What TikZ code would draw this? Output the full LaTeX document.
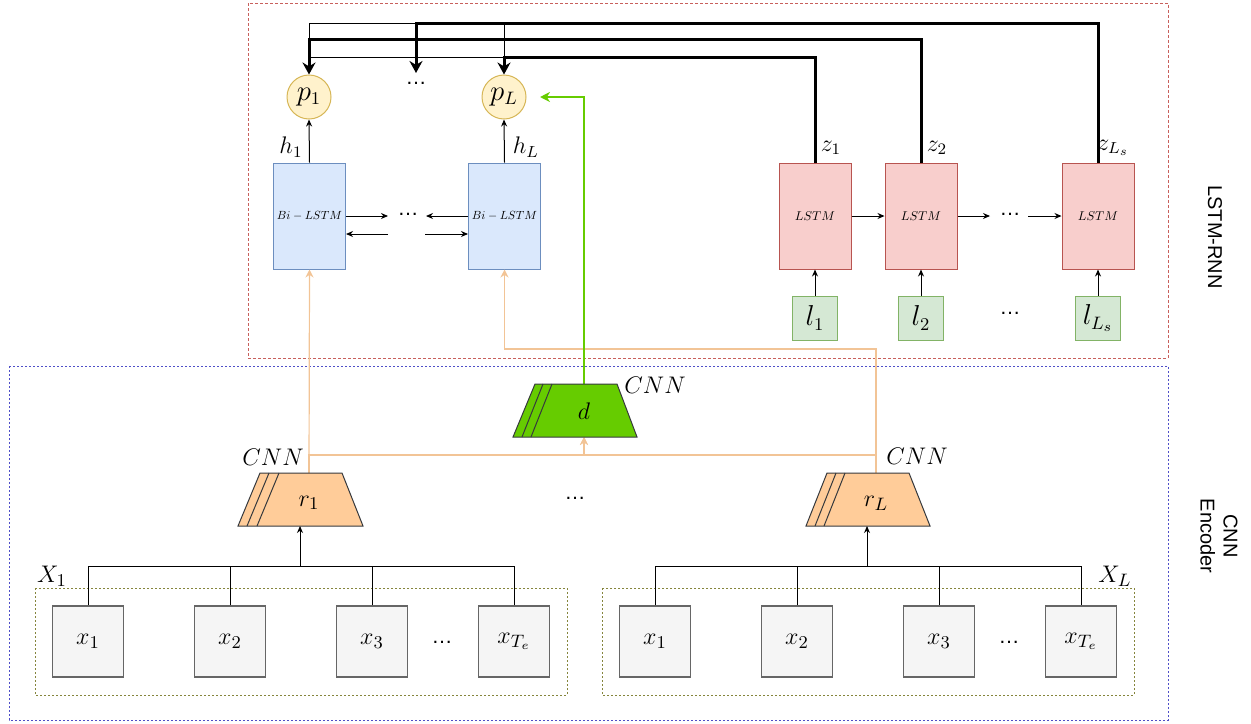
\documentclass[tikz,border=0pt]{standalone}
\usepackage{fontspec}
\newfontfamily\labelsans{Liberation Sans}
\usetikzlibrary{arrows.meta,calc}

\definecolor{blueF}{HTML}{DAE8FC}
\definecolor{blueD}{HTML}{6C8EBF}
\definecolor{redF}{HTML}{F8CECC}
\definecolor{redD}{HTML}{B85450}
\definecolor{greenF}{HTML}{D5E8D4}
\definecolor{greenD}{HTML}{82B366}
\definecolor{yellowF}{HTML}{FFF2CC}
\definecolor{yellowD}{HTML}{D6B656}
\definecolor{grayF}{HTML}{F5F5F5}
\definecolor{grayD}{HTML}{666666}
\definecolor{orangeF}{HTML}{FFCC99}
\definecolor{orangeL}{HTML}{F2C496}
\definecolor{cnnD}{HTML}{36393D}
\definecolor{greenL}{HTML}{66CC00}
\definecolor{rnnBorder}{HTML}{C8605C}
\definecolor{encBorder}{HTML}{4F4FC8}
\definecolor{groupBorder}{HTML}{85853C}

% small italic cell captions, set large and shrunk to keep the regular design size
\newcommand{\cellcap}[2]{\scalebox{#1}{\fontsize{11}{13}\selectfont$#2$}}

\begin{document}
\begin{tikzpicture}[x=0.5pt,y=-0.5pt,
  blk/.style={draw, line width=0.5pt, inner sep=0pt, minimum width=36pt, minimum height=53pt},
  bilstm/.style={blk, fill=blueF, draw=blueD},
  lstmbox/.style={blk, fill=redF, draw=redD},
  inbox/.style={draw=greenD, fill=greenF, line width=0.5pt, minimum width=22.5pt, minimum height=22pt, inner sep=0pt, font=\fontsize{13.5}{15}\selectfont},
  pnode/.style={circle, draw=yellowD, fill=yellowF, line width=0.5pt, minimum size=22pt, inner sep=0pt, font=\fontsize{13.5}{15}\selectfont},
  xbox/.style={draw=grayD, fill=grayF, minimum size=35.5pt, inner sep=0pt, line width=0.6pt, font=\fontsize{13}{15}\selectfont},
  lbl/.style={inner sep=0pt, font=\fontsize{11.5}{13}\selectfont},
  biglbl/.style={inner sep=0pt, font=\fontsize{12.5}{14}\selectfont},
  dotsn/.style={inner sep=0pt, font=\labelsans\fontsize{10.5}{11}\selectfont},
  cnnshape/.style={draw=cnnD, line width=0.5pt, line join=miter},
  ln/.style={line width=0.5pt},
  arr/.style={ln, -{Stealth[length=3.5pt,width=3pt]}},
  heavy/.style={line width=1.5pt, -{Stealth[length=6pt,width=6.5pt]}},
  orline/.style={draw=orangeL, line width=0.6pt},
  orarr/.style={orline, -{Stealth[length=4pt,width=4pt]}},
  grarr/.style={draw=greenL, line width=0.9pt, -{Stealth[length=5pt,width=5pt]}},
  region/.style={line width=0.5pt, dash pattern=on 1.5pt off 1pt},
  sidelbl/.style={inner sep=0pt, font=\labelsans\fontsize{10}{11.5}\selectfont, rotate=-90, align=center},
]
\useasboundingbox (0,0) rectangle (1251,723);

% ---------- region frames ----------
\draw[region, draw=rnnBorder] (248,3) rectangle (1168,358);
\draw[region, draw=encBorder, dash pattern=on 1pt off 1pt] (9,366) rectangle (1168,720);
\draw[region, draw=groupBorder, dash pattern=on 1pt off 1pt] (35,588) rectangle (567,695);
\draw[region, draw=groupBorder, dash pattern=on 1pt off 1pt] (602,588) rectangle (1134,695);

\node[sidelbl] (rnnlbl) at (1215,237) {LSTM-RNN};
\node[sidelbl] (enclbl) at (1219,536) {CNN\\Encoder};

% ---------- helper coordinates ----------
\coordinate (y23) at (0,23);
\coordinate (y39) at (0,39);
\coordinate (y57) at (0,57);
\coordinate (o349) at (0,349);
\coordinate (o455) at (0,455);
\coordinate (bus) at (0,566);
\coordinate (r1top) at (309,473);
\coordinate (r1bot) at (300,526);
\coordinate (rLtop) at (876,473);
\coordinate (rLbot) at (867,526);
\coordinate (dtop) at (584,384);
\coordinate (dbot) at (584,437);

% ---------- output nodes ----------
\node[pnode] (p1) at (309,97) {$p_1$};
\node[pnode] (pL) at (504,97) {$p_L$};
\node[dotsn] (pdots) at (416,83) {…};
\coordinate (pdotsIn) at (416,73);

% ---------- Bi-LSTM ----------
\node[bilstm] (bl1) at (309.5,216) {\cellcap{0.54}{Bi-LSTM}};
\node[bilstm] (bl2) at (504.5,216) {\cellcap{0.54}{Bi-LSTM}};
\node[dotsn] (bdots) at (408,214) {…};
\node[lbl] (h1) at (291,147) {$h_1$};
\node[lbl] (hL) at (526,147) {$h_L$};

% ---------- LSTM decoder ----------
\node[lstmbox] (ls1) at (815,216) {\cellcap{0.58}{LSTM}};
\node[lstmbox] (ls2) at (921,216) {\cellcap{0.58}{LSTM}};
\node[lstmbox] (ls3) at (1098,216) {\cellcap{0.58}{LSTM}};
\node[dotsn] (ldots) at (1010,214) {…};
\node[inbox] (l1) at (815,318) {$l_1$};
\node[inbox] (l2) at (921,318) {$l_2$};
\node[inbox] (l3) at (1098,318) {$l_{L_s}$};
\node[dotsn] (idots) at (1010,313) {…};
\node[lbl] (z1) at (831,148) {$z_1$};
\node[lbl] (z2) at (937,148) {$z_2$};
\node[lbl] (z3) at (1113,148) {$z_{L_s}$};

% ---------- connections from the decoder to the outputs ----------
\draw[ln] (p1.north |- y23) rectangle (pL.north |- y57);
\draw[heavy] (ls3.north) |- (pdotsIn |- y23) -- (pdotsIn);
\draw[heavy] (ls2.north) |- (p1.north |- y39) -- (p1.north);
\draw[heavy] (ls1.north) |- (pL.north |- y57) -- (pL.north);

\draw[arr] (bl1.north) -- (p1.south);
\draw[arr] (bl2.north) -- (pL.south);

% Bi-LSTM recurrences
\coordinate (bfa) at (388,216);
\coordinate (bfb) at (426,216);
\coordinate (bba) at (388,234);
\coordinate (bbb) at (425,234);
\draw[arr] (bl1.east) -- (bfa);
\draw[arr] (bl2.west) -- (bfb);
\draw[arr] (bba) -- (bl1.east |- bba);
\draw[arr] (bbb) -- (bl2.west |- bbb);

% LSTM chain
\coordinate (lc1) at (990,216);
\coordinate (lc2) at (1028,216);
\draw[arr] (ls1.east) -- (ls2.west);
\draw[arr] (ls2.east) -- (lc1);
\draw[arr] (lc2) -- (ls3.west);
\draw[arr] (l1.north) -- (ls1.south);
\draw[arr] (l2.north) -- (ls2.south);
\draw[arr] (l3.north) -- (ls3.south);

% ---------- CNN feature paths ----------
\draw[orarr] (r1top) -- (bl1.south);
\draw[orarr] (rLtop) |- (bl2.south |- o349) -- (bl2.south);
\draw[orarr] (r1top) |- (dbot |- o455) -- (dbot);
\draw[orarr] (rLtop) |- (dbot |- o455) -- (dbot);

\coordinate (gEnd) at (540,97);
\draw[grarr] (dtop) |- (gEnd);

% ---------- CNN blocks ----------
\draw[cnnshape, fill=orangeF] (238,526) -- (260,473) -- (342,473) -- (363,526) -- cycle;
\draw[cnnshape] (247,526) -- (269,473) (257,526) -- (279,473);
\node[biglbl] (r1) at (309,503) {$r_1$};
\node[biglbl] (cnn1) at (273,457) {$CNN$};

\draw[cnnshape, fill=orangeF] (806,526) -- (827,473) -- (909,473) -- (930,526) -- cycle;
\draw[cnnshape] (815,526) -- (836,473) (824,526) -- (845,473);
\node[biglbl] (rL) at (876,503) {$r_L$};
\node[biglbl] (cnnL) at (917,456) {$CNN$};

\draw[cnnshape, fill=greenL] (513,437) -- (535,384) -- (617,384) -- (637,437) -- cycle;
\draw[cnnshape] (522,437) -- (543,384) (531,437) -- (552,384);
\node[biglbl] (d) at (584,411) {$d$};
\node[biglbl] (cnnd) at (655,385) {$CNN$};

\node[dotsn] (rdots) at (575,498) {…};

% ---------- input sequences ----------
\node[xbox] (a1) at (88,641.5) {$x_1$};
\node[xbox] (a2) at (230,641.5) {$x_2$};
\node[xbox] (a3) at (372,641.5) {$x_3$};
\node[xbox] (a4) at (514,641.5) {$x_{T_e}$};
\node[dotsn] (adots) at (442,642) {…};
\node[biglbl, font=\fontsize{13}{15}\selectfont] (X1) at (52,576) {$X_1$};

\node[xbox] (b1) at (655,641.5) {$x_1$};
\node[xbox] (b2) at (797,641.5) {$x_2$};
\node[xbox] (b3) at (939,641.5) {$x_3$};
\node[xbox] (b4) at (1081,641.5) {$x_{T_e}$};
\node[dotsn] (bdots2) at (1009,642) {…};
\node[biglbl, font=\fontsize{13}{15}\selectfont] (XL) at (1115,576) {$X_L$};

\draw[ln] (a1.north) |- (a4.north |- bus) -- (a4.north);
\draw[ln] (a2.north) -- (a2.north |- bus);
\draw[ln] (a3.north) -- (a3.north |- bus);
\draw[arr] (r1bot |- bus) -- (r1bot);

\draw[ln] (b1.north) |- (b4.north |- bus) -- (b4.north);
\draw[ln] (b2.north) -- (b2.north |- bus);
\draw[ln] (b3.north) -- (b3.north |- bus);
\draw[arr] (rLbot |- bus) -- (rLbot);
\end{tikzpicture}
\end{document}
